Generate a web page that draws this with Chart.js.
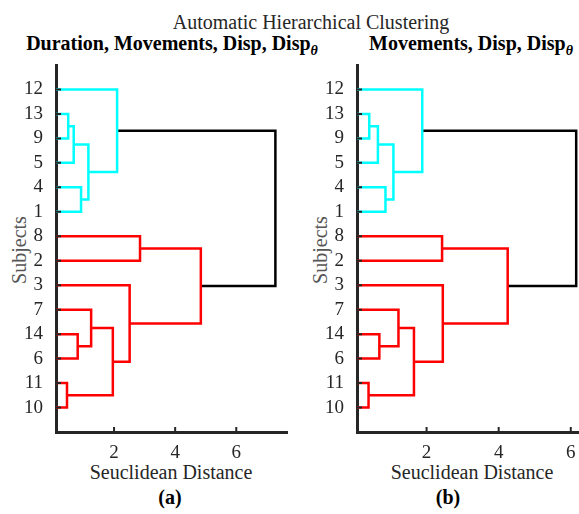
<!DOCTYPE html>
<html><head><meta charset="utf-8">
<script src="https://cdn.jsdelivr.net/npm/chart.js@4/dist/chart.umd.min.js"></script>
<style>
html,body{margin:0;padding:0;width:579px;height:514px;overflow:hidden;background:#fff;}
.t{position:absolute;white-space:nowrap;font-family:"Liberation Serif","Times New Roman",serif;font-size:20px;line-height:20px;color:#262626;}
.b{font-weight:bold;color:#000;}
.th{font-size:14px;font-style:italic;position:relative;top:5px;}
canvas{position:absolute;}
</style></head><body>
<div class="t" style="left:311px;top:12px;transform:translateX(-50%);">Automatic Hierarchical Clustering</div>
<div class="t b" style="left:172px;top:33px;transform:translateX(-50%);">Duration, Movements, Disp, Disp<span class="th">θ</span></div>
<div class="t b" style="left:369px;top:33px;">Movements, Disp, Disp<span class="th">θ</span></div>
<div class="t" style="left:19px;top:250px;color:#555;transform:translate(-50%,-50%) rotate(-90deg);">Subjects</div>
<div class="t" style="left:320px;top:250px;color:#555;transform:translate(-50%,-50%) rotate(-90deg);">Subjects</div>
<div class="t" style="left:171px;top:462px;transform:translateX(-50%);">Seuclidean Distance</div>
<div class="t" style="left:472px;top:462px;transform:translateX(-50%);">Seuclidean Distance</div>
<div class="t b" style="left:170px;top:487px;transform:translateX(-50%);">(a)</div>
<div class="t b" style="left:448px;top:487px;transform:translateX(-50%);">(b)</div>
<canvas id="cA" width="295" height="420" style="left:0px;top:55px;width:295px;height:420px;"></canvas>
<canvas id="cB" width="295" height="420" style="left:300px;top:55px;width:295px;height:420px;"></canvas>
<script>
// Leaf order, top to bottom
const subjectOrder = [12, 13, 9, 5, 4, 1, 8, 2, 3, 7, 14, 6, 11, 10];
// Merges: children are subject numbers (leaves) or 'mK' (earlier merge K)
const mergeChildren = [
  ['13', '9'], ['m0', '5'], ['4', '1'], ['m1', 'm2'], ['12', 'm3'],
  ['8', '2'], ['14', '6'], ['7', 'm6'], ['11', '10'], ['m7', 'm8'],
  ['3', 'm9'], ['m5', 'm10'], ['m4', 'm11']
];
const mergeColors = ['cyan','cyan','cyan','cyan','cyan','red','red','red','red','red','red','red','black'];
// Merge heights (Seuclidean distance)
const heightsA = [0.50, 0.68, 0.92, 1.16, 2.10, 2.85, 0.81, 1.25, 0.46, 1.96, 2.51, 4.84, 7.28];
const heightsB = [0.41, 0.65, 0.86, 1.08, 1.88, 2.43, 0.69, 1.22, 0.39, 1.65, 2.45, 4.25, 6.15];
const xTicks = [2, 4, 6];

const colorMap = {cyan: '#00FFFF', red: '#FF0000', black: '#000000'};
const nLeaves = subjectOrder.length;

function buildDatasets(heights) {
  const nodes = [];
  function pos(c) {
    if (c[0] === 'm') return nodes[parseInt(c.slice(1), 10)];
    const idx = subjectOrder.indexOf(parseInt(c, 10));
    return {x: 0, y: nLeaves - idx};
  }
  const ds = [];
  mergeChildren.forEach((pair, i) => {
    const a = pos(pair[0]), b = pos(pair[1]);
    const h = heights[i];
    nodes[i] = {x: h, y: (a.y + b.y) / 2};
    ds.push({
      data: [{x: a.x, y: a.y}, {x: h, y: a.y}, {x: h, y: b.y}, {x: b.x, y: b.y}],
      borderColor: colorMap[mergeColors[i]],
      backgroundColor: colorMap[mergeColors[i]],
      borderWidth: 2.5,
      showLine: true,
      pointRadius: 0,
      tension: 0,
      clip: 0
    });
  });
  return ds;
}

const inwardTicks = {
  id: 'inwardTicks',
  afterDatasetsDraw(chart) {
    const ctx = chart.ctx, xs = chart.scales.x, ys = chart.scales.y, ca = chart.chartArea;
    ctx.save();
    ctx.strokeStyle = '#262626';
    ctx.lineWidth = 2;
    ctx.beginPath();
    xs.ticks.forEach(t => {
      const px = xs.getPixelForValue(t.value);
      ctx.moveTo(px, ca.bottom); ctx.lineTo(px, ca.bottom - 5);
    });
    ys.ticks.forEach(t => {
      const py = ys.getPixelForValue(t.value);
      ctx.moveTo(ca.left, py); ctx.lineTo(ca.left + 5, py);
    });
    ctx.stroke();
    ctx.restore();
  }
};

function makeChart(id, heights, xmin, xmax, yWidth) {
  const font = {family: '"Liberation Serif","Times New Roman",serif', size: 19};
  new Chart(document.getElementById(id), {
    type: 'scatter',
    data: {datasets: buildDatasets(heights)},
    options: {
      responsive: false,
      animation: false,
      events: [],
      layout: {padding: {left: 0, top: 10, right: 8, bottom: 0}},
      plugins: {legend: {display: false}, tooltip: {enabled: false}},
      scales: {
        x: {
          type: 'linear', min: xmin, max: xmax, z: 1,
          grid: {display: false},
          border: {display: true, color: '#262626', width: 3},
          afterBuildTicks: s => { s.ticks = xTicks.map(v => ({value: v})); },
          afterFit: s => { s.height = 43; s.paddingLeft = 0; s.paddingRight = 0; },
          ticks: {color: '#262626', font: font, padding: 2, maxRotation: 0}
        },
        y: {
          type: 'linear', min: 0, max: nLeaves + 1, z: 1,
          grid: {display: false},
          border: {display: true, color: '#262626', width: 3},
          afterBuildTicks: s => { s.ticks = subjectOrder.map((_, i) => ({value: nLeaves - i})); },
          afterFit: s => { s.width = yWidth; s.paddingTop = 0; s.paddingBottom = 0; },
          ticks: {
            color: '#262626', font: font, padding: 5,
            callback: v => String(subjectOrder[nLeaves - v])
          }
        }
      }
    },
    plugins: [inwardTicks]
  });
}

makeChart('cA', heightsA, 0.1, 7.66, 56);
makeChart('cB', heightsB, 0.07, 6.45, 57);
</script>
</body></html>
